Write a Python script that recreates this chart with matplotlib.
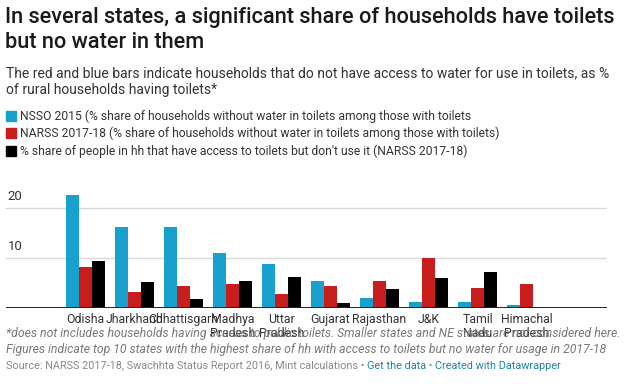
import numpy as np
import matplotlib
matplotlib.use("Agg")
import matplotlib.pyplot as plt
import matplotlib.transforms as mtransforms

plt.rcParams['font.family'] = ['Roboto', 'DejaVu Sans']

states = ["Odisha", "Jharkhand", "Chhattisgarh", "Madhya\nPradesh", "Uttar\nPradesh",
          "Gujarat", "Rajasthan", "J&K", "Tamil\nNadu", "Himachal\nPradesh"]
nsso_2015 = [22.6, 16.1, 16.1, 10.9, 8.7, 5.3, 2.0, 1.2, 1.2, 0.6]
narss_2018 = [8.1, 3.2, 4.4, 4.8, 2.8, 4.3, 5.3, 9.9, 3.9, 4.7]
not_using = [9.3, 5.2, 1.8, 5.4, 6.1, 1.0, 3.8, 5.9, 7.1, 0.0]

series_names = [
    "NSSO 2015 (% share of households without water in toilets among those with toilets",
    "NARSS 2017-18 (% share of households without water in toilets among those with toilets)",
    "% share of people in hh that have access to toilets but don't use it (NARSS 2017-18)",
]
colors = ["#18a1cd", "#c71e1d", "#000000"]
yticks = [10, 20]

W, H = 630, 386
fig = plt.figure(figsize=(W / 100, H / 100), dpi=100)

# header texts
fig.text(5 / W, 1 - 17 / H, "In several states, a significant share of households have toilets",
         fontsize=15.7, weight="medium", color="#1a1a1a", va="center", ha="left")
fig.text(5 / W, 1 - 42 / H, "but no water in them",
         fontsize=15.7, weight="medium", color="#1a1a1a", va="center", ha="left")
fig.text(6 / W, 1 - 73 / H,
         "The red and blue bars indicate households that do not have access to water for use in toilets, as %",
         fontsize=10, color="#333333", va="center", ha="left")
fig.text(6 / W, 1 - 90 / H, "of rural households having toilets*",
         fontsize=10, color="#333333", va="center", ha="left")

# legend
for i, (name, c) in enumerate(zip(series_names, colors)):
    yc = 116 + i * 17.5
    fig.patches.append(plt.Rectangle((6 / W, 1 - (yc + 5) / H), 10 / W, 10 / H,
                                     transform=fig.transFigure, color=c))
    fig.text(20 / W, 1 - yc / H, name, fontsize=8.7, color="#333333",
             va="center", ha="left")

# chart
ax = fig.add_axes([6 / W, 1 - 307.6 / H, 601 / W, 120 / H])
x = np.arange(len(states))
bw = 13 / 49
for k, (vals, c) in enumerate(zip([nsso_2015, narss_2018, not_using], colors)):
    ax.bar(x + (k - 1) * bw, vals, width=bw, color=c, linewidth=0, zorder=3)

ax.set_xlim(-1.62, 10.64)
ax.set_ylim(0, 24)
for s in ax.spines.values():
    s.set_visible(False)
ax.axhline(0, color="#222222", linewidth=1.4, zorder=4)
for t in yticks:
    ax.axhline(t, color="#d9d9d9", linewidth=1, zorder=1)
    ax.text(0.003, t + 1.0, str(t), transform=mtransforms.blended_transform_factory(ax.transAxes, ax.transData),
            fontsize=9.5, color="#333333", ha="left", va="bottom")
ax.set_yticks([])
ax.set_xticks(x)
ax.set_xticklabels(states, fontsize=8.8, color="#333333", linespacing=1.05)
ax.tick_params(axis="x", length=0, pad=4)

# footnotes
fig.text(6 / W, 1 - 333 / H,
         "*does not includes households having access to public toilets. Smaller states and NE states are not considered here.",
         fontsize=8.85, color="#777777", style="italic", va="center", ha="left")
fig.text(6 / W, 1 - 349 / H,
         "Figures indicate top 10 states with the highest share of hh with access to toilets but no water for usage in 2017-18",
         fontsize=8.85, color="#777777", style="italic", va="center", ha="left")

src = "Source: NARSS 2017-18, Swachhta Status Report 2016, Mint calculations \u2022 "
t1 = fig.text(6 / W, 1 - 366 / H, src, fontsize=7.85, color="#888888", va="center", ha="left")
fig.canvas.draw()
bb = t1.get_window_extent()
t2 = fig.text(bb.x1 / (W), 1 - 366 / H, "Get the data", fontsize=7.85, color="#1d81a2",
              va="center", ha="left")
bb2 = t2.get_window_extent()
t3 = fig.text(bb2.x1 / W, 1 - 366 / H, " \u2022 ", fontsize=7.85, color="#888888",
              va="center", ha="left")
bb3 = t3.get_window_extent()
fig.text(bb3.x1 / W, 1 - 366 / H, "Created with Datawrapper", fontsize=7.85, color="#1d81a2",
         va="center", ha="left")

fig.savefig("out.png", dpi=100, facecolor="white")
